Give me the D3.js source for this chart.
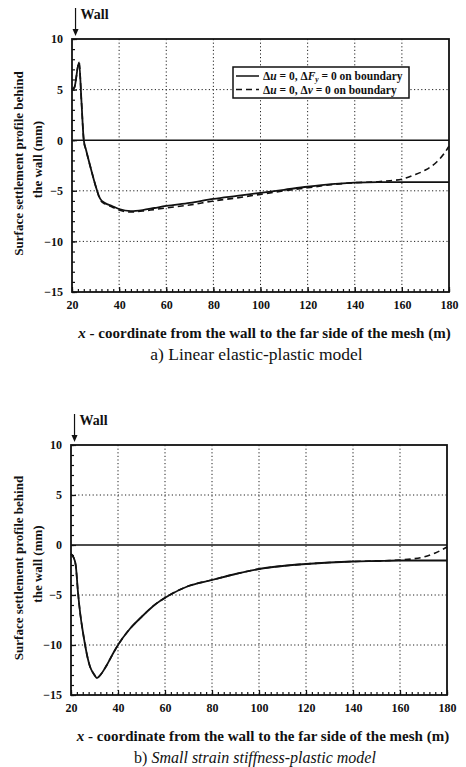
<!DOCTYPE html>
<html>
<head>
<meta charset="utf-8">
<script src="https://cdn.jsdelivr.net/npm/d3@7"></script>
<style>
body { margin: 0; background: #fff; }
text { font-family: "Liberation Serif", "Times New Roman", serif; fill: #111; }
.grid { stroke: #222; stroke-width: 1; stroke-dasharray: 1.2 2.4; }
.frame { fill: none; stroke: #111; stroke-width: 1.8; }
.tick text { font-size: 12px; font-weight: bold; font-family: "Liberation Serif", "Times New Roman", serif; }
</style>
</head>
<body>
<svg id="chart" width="466" height="767"></svg>
<script>
// x positions (m) and settlement (mm)
var xA = [20, 21, 23, 24, 25, 26, 28, 30, 32, 34, 37, 40, 45, 50, 55, 60, 70, 80, 90, 100, 110, 120, 130, 140, 150, 160, 170, 180];
var solidA = [5, 5.2, 7.7, 3.9, 0, -1, -2.8, -4.5, -5.8, -6.2, -6.5, -6.8, -7.0, -6.9, -6.7, -6.5, -6.2, -5.8, -5.5, -5.2, -4.9, -4.6, -4.35, -4.2, -4.15, -4.15, -4.15, -4.15];
var xAd = [20, 21, 23, 24, 25, 26, 28, 30, 32, 34, 37, 40, 45, 50, 55, 60, 70, 80, 90, 100, 110, 120, 130, 140, 150, 155, 160, 165, 170, 175, 178, 180];
var dashA = [5, 5.2, 7.7, 3.9, 0, -1, -2.8, -4.5, -5.9, -6.3, -6.6, -6.9, -7.1, -7.0, -6.85, -6.7, -6.4, -6.0, -5.7, -5.35, -5.0, -4.7, -4.4, -4.2, -4.1, -4.0, -3.85, -3.45, -2.95, -2.1, -1.3, -0.6];

var xB = [20, 21, 22, 23, 24, 25, 26, 27, 28, 30, 31, 32.5, 35, 38, 40, 45, 50, 55, 62, 70, 80, 90, 100, 110, 120, 130, 140, 150, 160, 170, 180];
var solidB = [-0.9, -1.2, -2, -4.8, -7, -8.6, -10, -11.2, -12.1, -13.0, -13.3, -13.0, -12.1, -10.8, -10, -8.4, -7.2, -6.1, -5, -4.1, -3.5, -2.9, -2.4, -2.1, -1.9, -1.75, -1.65, -1.6, -1.55, -1.55, -1.55];
var xBd = [20, 21, 22, 23, 24, 25, 26, 27, 28, 30, 31, 32.5, 35, 38, 40, 45, 50, 55, 62, 70, 80, 90, 100, 110, 120, 130, 140, 150, 160, 165, 170, 175, 180];
var dashB = [-0.9, -1.2, -2, -4.8, -7, -8.6, -10, -11.2, -12.1, -13.0, -13.3, -13.0, -12.1, -10.8, -10, -8.4, -7.2, -6.1, -5, -4.1, -3.5, -2.9, -2.4, -2.1, -1.9, -1.75, -1.65, -1.6, -1.5, -1.4, -1.2, -0.8, -0.2];

var xTicks = [20, 40, 60, 80, 100, 120, 140, 160, 180];
var yTicks = [-15, -10, -5, 0, 5, 10];
var wallX = 21.5;

var xTitle = "x - coordinate from the wall to the far side of the mesh  (m)";
var yTitle1 = "Surface settlement profile behind";
var yTitle2 = "the wall (mm)";

var svg = d3.select("#chart");

function zip(xs, ys) {
	return xs.map(function(d, i) { return [d, ys[i]]; });
}

function drawPanel(p) {

	var x = d3.scaleLinear().domain([20, 180]).range([p.left, p.left + p.width]);
	var y = d3.scaleLinear().domain([-15, 10]).range([p.top + p.height, p.top]);
	var g = svg.append("g");

	// dotted grid
	g.selectAll(".gx").data(xTicks.slice(1, -1)).enter().append("line")
		.attr("class", "grid")
		.attr("x1", function(d) { return x(d); }).attr("x2", function(d) { return x(d); })
		.attr("y1", y(10)).attr("y2", y(-15));
	g.selectAll(".gy").data([-10, -5, 5]).enter().append("line")
		.attr("class", "grid")
		.attr("x1", x(20)).attr("x2", x(180))
		.attr("y1", function(d) { return y(d); }).attr("y2", function(d) { return y(d); });

	// zero line
	g.append("line")
		.attr("x1", x(20)).attr("x2", x(180))
		.attr("y1", y(0)).attr("y2", y(0))
		.attr("stroke", "#111").attr("stroke-width", 1.6);

	// axes with inward minor ticks
	var xMinor = d3.axisBottom(x).tickValues(d3.range(20, 180.1, 2.5)).tickSize(-3).tickFormat("");
	var yMinor = d3.axisLeft(y).tickValues(d3.range(-15, 10.1, 1)).tickSize(-3).tickFormat("");
	g.append("g").attr("transform", "translate(0," + y(-15) + ")").call(xMinor)
		.call(function(s) { s.select(".domain").remove(); });
	g.append("g").attr("transform", "translate(" + x(20) + ",0)").call(yMinor)
		.call(function(s) { s.select(".domain").remove(); });

	var xAx = d3.axisBottom(x).tickValues(xTicks).tickSize(-5).tickPadding(8);
	var yAx = d3.axisLeft(y).tickValues(yTicks).tickSize(-5).tickPadding(9);
	g.append("g").attr("transform", "translate(0," + y(-15) + ")").call(xAx)
		.call(function(s) { s.select(".domain").remove(); });
	g.append("g").attr("transform", "translate(" + x(20) + ",0)").call(yAx)
		.call(function(s) { s.select(".domain").remove(); });
	g.selectAll(".tick line").attr("stroke", "#111").attr("stroke-width", 1.2);

	// frame
	g.append("rect").attr("class", "frame")
		.attr("x", x(20)).attr("y", y(10))
		.attr("width", x(180) - x(20)).attr("height", y(-15) - y(10));

	var line = d3.line()
		.x(function(d) { return x(d[0]); })
		.y(function(d) { return y(d[1]); })
		.curve(d3.curveMonotoneX);

	g.append("path").datum(zip(p.xd, p.dash))
		.attr("d", line).attr("fill", "none")
		.attr("stroke", "#111").attr("stroke-width", 1.6).attr("stroke-dasharray", "6 4");
	g.append("path").datum(zip(p.xs, p.solid))
		.attr("d", line).attr("fill", "none")
		.attr("stroke", "#111").attr("stroke-width", 1.8);

	// wall arrow
	var wx = x(wallX);
	g.append("line").attr("x1", wx).attr("x2", wx)
		.attr("y1", y(10) - 31).attr("y2", y(10) - 8)
		.attr("stroke", "#111").attr("stroke-width", 1.2);
	g.append("path")
		.attr("d", "M" + (wx - 3) + "," + (y(10) - 10) + "L" + (wx + 3) + "," + (y(10) - 10) + "L" + wx + "," + (y(10) - 3) + "Z")
		.attr("fill", "#111");
	g.append("text").attr("x", wx + 5).attr("y", y(10) - 20)
		.style("font-size", "14px").style("font-weight", "bold").text("Wall");

	// y title
	var cy = (y(10) + y(-15)) / 2;
	g.append("text").attr("transform", "translate(23," + (cy - 2) + ") rotate(-90)")
		.attr("text-anchor", "middle").style("font-size", "13px").style("font-weight", "bold")
		.text(yTitle1);
	g.append("text").attr("transform", "translate(42," + (cy - 6) + ") rotate(-90)")
		.attr("text-anchor", "middle").style("font-size", "13px").style("font-weight", "bold")
		.text(yTitle2);

	// x title
	var xt = g.append("text").attr("x", (x(20) + x(180)) / 2 + 4).attr("y", y(-15) + 46)
		.attr("text-anchor", "middle").style("font-size", "15px").style("font-weight", "bold");
	xt.append("tspan").style("font-style", "italic").text("x");
	xt.append("tspan").text(xTitle.slice(1));

	// caption
	var cap = g.append("text").attr("x", (x(20) + x(180)) / 2 - 4).attr("y", y(-15) + 68)
		.attr("text-anchor", "middle").style("font-size", p.capSize + "px");
	p.caption.forEach(function(c) {
		cap.append("tspan").style("font-style", c[1] ? "italic" : "normal").text(c[0]);
	});

	return { x: x, y: y, g: g };
}

var pa = drawPanel({ left: 72, top: 39, width: 377, height: 253,
	xs: xA, solid: solidA, xd: xAd, dash: dashA, capSize: 17.5,
	caption: [["a) Linear elastic-plastic model", false]] });

drawPanel({ left: 71, top: 445, width: 376, height: 250,
	xs: xB, solid: solidB, xd: xBd, dash: dashB, capSize: 16,
	caption: [["b) ", false], ["Small strain stiffness-plastic model", true]] });

// legend in panel a
var lg = pa.g.append("g").attr("transform", "translate(233,67)");
lg.append("rect").attr("width", 176).attr("height", 31)
	.attr("fill", "#fff").attr("stroke", "#111").attr("stroke-width", 1.5);
// [text, style, dy] style: 0 normal, 1 italic, 2 italic subscript
var legendRows = [
	{ dash: null, parts: [["Δ", 0, 0], ["u", 1, 0], [" = 0, Δ", 0, 0], ["F", 1, 0], ["y", 2, 2], [" = 0 on boundary", 0, -2]] },
	{ dash: "6 4", parts: [["Δ", 0, 0], ["u", 1, 0], [" = 0, Δ", 0, 0], ["v", 1, 0], [" = 0 on boundary", 0, 0]] }
];
legendRows.forEach(function(r, i) {
	var yy = 9 + i * 13.5;
	lg.append("line").attr("x1", 3).attr("x2", 26).attr("y1", yy).attr("y2", yy)
		.attr("stroke", "#111").attr("stroke-width", 1.5)
		.attr("stroke-dasharray", r.dash);
	var t = lg.append("text").attr("x", 30).attr("y", yy + 4)
		.style("font-size", "11.5px").style("font-weight", "bold");
	r.parts.forEach(function(pt) {
		var s = t.append("tspan").text(pt[0]).attr("dy", pt[2]);
		if (pt[1] >= 1) s.style("font-style", "italic");
		if (pt[1] === 2) s.style("font-size", "7.5px");
	});
});
</script>
</body>
</html>
